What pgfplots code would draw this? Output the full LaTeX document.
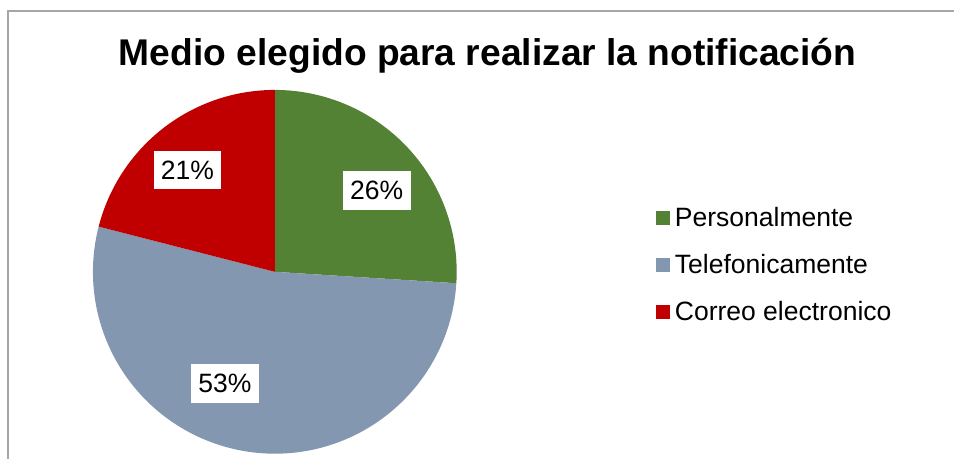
\documentclass[border=0pt]{standalone}
\usepackage{fontspec}
\setmainfont{Liberation Sans}
\usepackage{pgfplots}
\pgfplotsset{compat=1.18}
\definecolor{pgreen}{HTML}{548235}
\definecolor{pblue}{HTML}{8497B0}
\definecolor{pred}{HTML}{C00000}
\definecolor{frame}{HTML}{A6A6A6}

% shares in percent
\def\pa{26}
\def\pb{53}
\def\pc{21}

\begin{document}
\begin{tikzpicture}
\begin{axis}[
  x=0.75pt, y=0.75pt,
  xmin=0, xmax=955, ymin=0, ymax=459,
  hide axis, clip=false,
  legend style={at={(axis cs:656,252)}, anchor=north west, draw=none, fill=none,
    inner sep=0pt, outer sep=0pt, font=\fontsize{19.9}{24}\selectfont,
    row sep=20.25pt, nodes={inner sep=0pt, text height=15pt, text depth=0pt},
    /tikz/every odd column/.append style={column sep=4pt}},
  legend cell align=left,
  legend image code/.code={\fill[#1] (0pt,-6pt) rectangle (10.5pt,4.5pt);},
]
\fill[white] (axis cs:0,0) rectangle (axis cs:955,459);
\draw[frame, line width=1pt] (axis cs:8,0) -- (axis cs:8,448) -- (axis cs:955,448);

\fill[pgreen] (axis cs:275,187) -- ++(90:136.5pt)
  arc[start angle=90, end angle={90-3.6*\pa}, radius=136.5pt] -- cycle;
\fill[pblue] (axis cs:275,187) -- ++({90-3.6*\pa}:136.5pt)
  arc[start angle={90-3.6*\pa}, end angle={90-3.6*(\pa+\pb)}, radius=136.5pt] -- cycle;
\fill[pred] (axis cs:275,187) -- ++({90-3.6*(\pa+\pb)}:136.5pt)
  arc[start angle={90-3.6*(\pa+\pb)}, end angle=-270, radius=136.5pt] -- cycle;

\addlegendimage{fill=pgreen, draw=none}
\addlegendentry{Personalmente}
\addlegendimage{fill=pblue, draw=none}
\addlegendentry{Telefonicamente}
\addlegendimage{fill=pred, draw=none}
\addlegendentry{Correo electronico}

\node[fill=white, inner xsep=5.5pt, inner ysep=7.5pt, font=\fontsize{19.9}{24}\selectfont]
  at (axis cs:377,268.5) {\pa\%};
\node[fill=white, inner xsep=5.5pt, inner ysep=7.5pt, font=\fontsize{19.9}{24}\selectfont]
  at (axis cs:225,75) {\pb\%};
\node[fill=white, inner xsep=5.5pt, inner ysep=7.5pt, font=\fontsize{19.9}{24}\selectfont]
  at (axis cs:187.5,289) {\pc\%};

\node[anchor=base, font=\fontsize{27.9}{33}\selectfont\bfseries]
  at (axis cs:488,393) {Medio elegido para realizar la notificación};
\end{axis}
\end{tikzpicture}
\end{document}
